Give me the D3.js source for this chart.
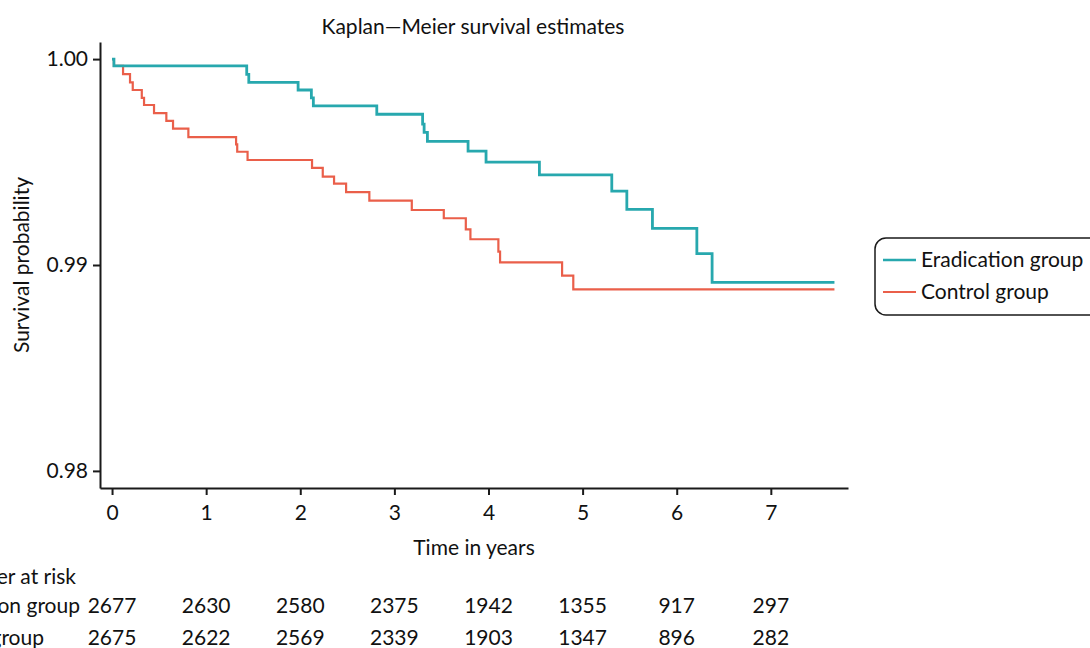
<!DOCTYPE html>
<html>
<head>
<meta charset="utf-8">
<script src="https://cdn.jsdelivr.net/npm/d3@7"></script>
<style>
  html, body { margin: 0; padding: 0; background: #ffffff; }
  svg { display: block; font-family: Lato, "Open Sans", sans-serif; }
</style>
</head>
<body>
<svg id="chart" width="1090" height="648"></svg>
<script>
// Kaplan–Meier step data (time in years, survival after each event)
const eradTimes = [0, 0.02, 1.431, 1.453, 1.977, 2.118, 2.139, 2.813, 3.300, 3.316, 3.351, 3.783, 3.974, 4.541, 5.310, 5.470, 5.742, 6.214, 6.376, 7.676];
const eradSurv  = [1.0, 0.99967, 0.99926, 0.99887, 0.99850, 0.99812, 0.99773, 0.99732, 0.99684, 0.99644, 0.99600, 0.99553, 0.99500, 0.99438, 0.99359, 0.99270, 0.99178, 0.99055, 0.98916, 0.98916];

const ctrlTimes = [0, 0.02, 0.117, 0.191, 0.220, 0.316, 0.340, 0.446, 0.577, 0.648, 0.811, 1.318, 1.330, 1.440, 2.125, 2.239, 2.359, 2.487, 2.734, 3.185, 3.525, 3.759, 3.808, 4.105, 4.123, 4.782, 4.901, 7.676];
const ctrlSurv  = [1.0, 0.99967, 0.99927, 0.99887, 0.99850, 0.99812, 0.99777, 0.99738, 0.99700, 0.99662, 0.99621, 0.99586, 0.99550, 0.99510, 0.99472, 0.99429, 0.99395, 0.99354, 0.99313, 0.99267, 0.99227, 0.99173, 0.99125, 0.99065, 0.99013, 0.98948, 0.98882, 0.98882];

const xTicks = [0, 1, 2, 3, 4, 5, 6, 7];
const yTicks = [0.98, 0.99, 1.00];

const groupNames = ["Eradication group", "Control group"];
const groupColors = ["#27a8ae", "#ea5f4a"];

const riskTimes = [0, 1, 2, 3, 4, 5, 6, 7];
const riskErad  = [2677, 2630, 2580, 2375, 1942, 1355, 917, 297];
const riskCtrl  = [2675, 2622, 2569, 2339, 1903, 1347, 896, 282];

const svg = d3.select("#chart");

const x = d3.scaleLinear().domain([-0.128, 7.82]).range([100, 848]);
const y = d3.scaleLinear().domain([0.97917, 1.00083]).range([488, 42]);

const axisColor = "#1a1a1a";
const fontSize = 21;

// Title
svg.append("text")
  .attr("x", 473).attr("y", 34)
  .attr("text-anchor", "middle")
  .attr("font-size", fontSize)
  .attr("fill", "#111")
  .text("Kaplan\u2014Meier survival estimates");

// Y axis
const yAxis = svg.append("g")
  .attr("transform", `translate(100,0)`)
  .call(d3.axisLeft(y).tickValues(yTicks).tickFormat(d3.format(".2f")).tickSize(7).tickSizeOuter(0).tickPadding(5));

// X axis
const xAxis = svg.append("g")
  .attr("transform", `translate(0,488)`)
  .call(d3.axisBottom(x).tickValues(xTicks).tickFormat(d3.format("d")).tickSize(7).tickSizeOuter(0).tickPadding(10));

[yAxis, xAxis].forEach(g => {
  g.select(".domain").attr("stroke", axisColor).attr("stroke-width", 2);
  g.selectAll(".tick line").attr("stroke", axisColor).attr("stroke-width", 2);
  g.selectAll(".tick text").attr("font-size", fontSize).attr("fill", "#111")
    .attr("font-family", "Lato, 'Open Sans', sans-serif");
});

// Axis titles
svg.append("text")
  .attr("x", 474).attr("y", 555)
  .attr("text-anchor", "middle")
  .attr("font-size", fontSize).attr("fill", "#111")
  .text("Time in years");

svg.append("text")
  .attr("transform", "translate(29,265) rotate(-90)")
  .attr("text-anchor", "middle")
  .attr("font-size", fontSize).attr("fill", "#111")
  .text("Survival probability");

// Survival curves
const line = d3.line()
  .x(d => x(d[0]))
  .y(d => y(d[1]))
  .curve(d3.curveStepAfter);

const series = [
  { times: ctrlTimes, surv: ctrlSurv, color: groupColors[1], width: 2.2 },
  { times: eradTimes, surv: eradSurv, color: groupColors[0], width: 2.8 }
];

series.forEach(s => {
  const pts = s.times.map((t, i) => [t, s.surv[i]]);
  svg.append("path")
    .datum(pts)
    .attr("fill", "none")
    .attr("stroke", s.color)
    .attr("stroke-width", s.width)
    .attr("d", line);
});

// Legend
const legend = svg.append("g");
legend.append("rect")
  .attr("x", 875).attr("y", 238)
  .attr("width", 230).attr("height", 77)
  .attr("rx", 11).attr("ry", 11)
  .attr("fill", "#fff")
  .attr("stroke", axisColor).attr("stroke-width", 1.5);

groupNames.forEach((name, i) => {
  const ly = 260 + i * 32;
  legend.append("line")
    .attr("x1", 883).attr("x2", 916)
    .attr("y1", ly).attr("y2", ly)
    .attr("stroke", groupColors[i])
    .attr("stroke-width", i === 0 ? 2.6 : 2.0);
  legend.append("text")
    .attr("x", 921).attr("y", ly + 7)
    .attr("font-size", fontSize).attr("fill", "#111")
    .text(name);
});

// Number-at-risk table (row labels run off the left edge of the page)
const riskRows = [
  { label: "Number at risk", values: null, y: 584, endX: 76 },
  { label: groupNames[0], values: riskErad, y: 613, endX: 80 },
  { label: groupNames[1], values: riskCtrl, y: 645, endX: 44 }
];

riskRows.forEach(r => {
  svg.append("text")
    .attr("x", r.endX).attr("y", r.y)
    .attr("text-anchor", "end")
    .attr("font-size", fontSize).attr("fill", "#111")
    .text(r.label);
  if (r.values) {
    svg.append("g").selectAll("text")
      .data(riskTimes.map((t, i) => [t, r.values[i]]))
      .join("text")
      .attr("x", d => x(d[0]))
      .attr("y", r.y)
      .attr("text-anchor", "middle")
      .attr("font-size", fontSize).attr("fill", "#111")
      .text(d => d[1]);
  }
});
</script>
</body>
</html>
